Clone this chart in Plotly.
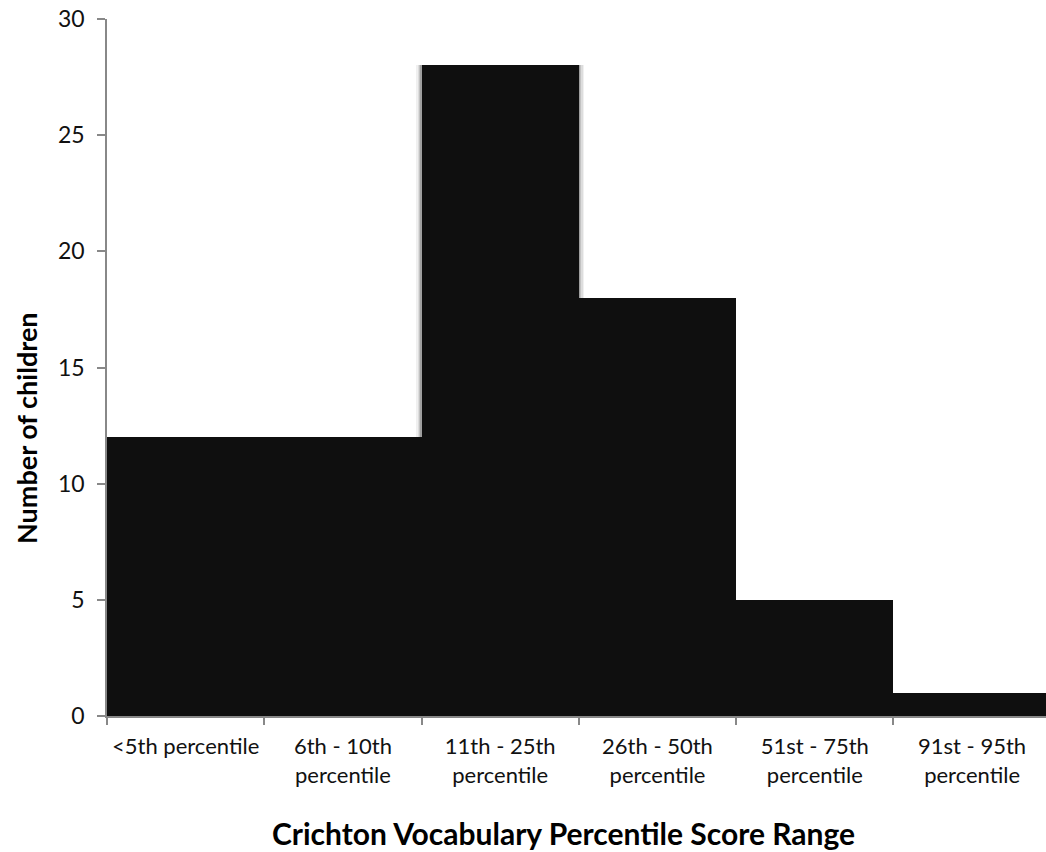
import plotly.graph_objects as go

categories = ["<5th percentile", "6th - 10th<br>percentile", "11th - 25th<br>percentile",
              "26th - 50th<br>percentile", "51st - 75th<br>percentile", "91st - 95th<br>percentile"]
counts = [12, 12, 28, 18, 5, 1]
y_ticks = [0, 5, 10, 15, 20, 25, 30]
shadow_index = 2  # the bar drawn with a soft shadow in the original

FONT = "Lato"

fig = go.Figure()
# soft shadow behind the highlighted bar (layered translucent bars)
shadow_vals = [c if i == shadow_index else None for i, c in enumerate(counts)]
for w, a in [(1.07, 0.06), (1.05, 0.08), (1.03, 0.12), (1.015, 0.18)]:
    fig.add_trace(go.Bar(
        x=categories, y=shadow_vals, width=w,
        marker=dict(color=f"rgba(0,0,0,{a})", line=dict(width=0)),
        showlegend=False, hoverinfo="skip",
    ))
fig.add_trace(go.Bar(
    x=categories, y=counts, width=1.0,
    marker=dict(color="#0f0f0f", line=dict(width=0)),
    showlegend=False,
))

fig.update_layout(
    width=1046, height=852,
    margin=dict(l=107, r=0, t=19, b=136),
    paper_bgcolor="white", plot_bgcolor="white",
    barmode="overlay",
    bargap=0,
    font=dict(family=FONT, color="#111111"),
    xaxis=dict(
        type="category",
        range=[-0.5, 5.47],
        showline=True, linecolor="#888888", linewidth=1.5,
        ticks="outside", tickson="boundaries", ticklen=7, tickcolor="#888888", tickwidth=1.5,
        tickfont=dict(size=22, family=FONT, color="#111111"),
        ticklabelstandoff=10,
        showgrid=False, zeroline=False,
    ),
    yaxis=dict(
        range=[0, 30], tickvals=y_ticks,
        showline=True, linecolor="#888888", linewidth=1.5,
        ticks="outside", ticklen=8, tickcolor="#888888", tickwidth=1.5,
        tickfont=dict(size=23, family=FONT, color="#111111"),
        ticklabelstandoff=8,
        showgrid=False, zeroline=False,
    ),
    annotations=[
        dict(text="<b>Number of children</b>", textangle=-90, xref="paper", yref="paper",
             x=(26-107)/939, y=(716-428)/697, xanchor="center", yanchor="middle",
             showarrow=False, font=dict(size=27, family=FONT, color="#000000")),
        dict(text="<b>Crichton Vocabulary Percentile Score Range</b>", xref="paper", yref="paper",
             x=(563-107)/939, y=-(833-716)/697, xanchor="center", yanchor="middle",
             showarrow=False, font=dict(size=30, family=FONT, color="#000000")),
    ],
)

fig.write_html("out.html")
